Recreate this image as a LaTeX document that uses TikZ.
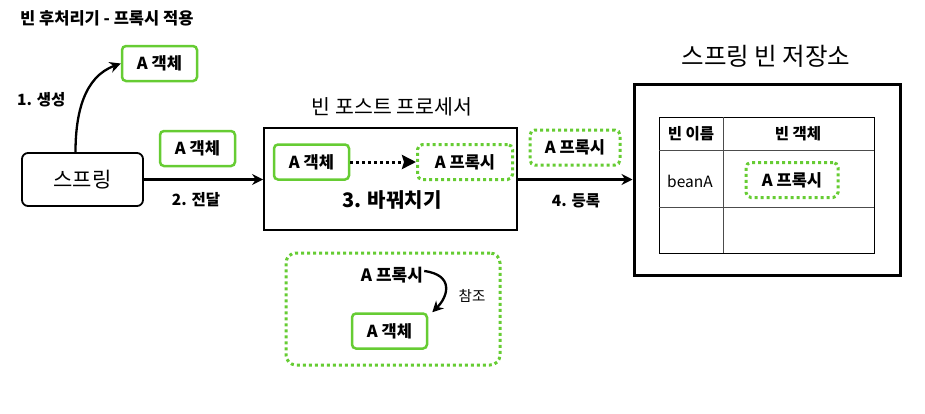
\documentclass[tikz,border=0pt]{standalone}
\usepackage{fontspec}
\setmainfont{Noto Sans CJK KR}
\usetikzlibrary{arrows.meta}
\definecolor{grn}{RGB}{102,204,51}
\begin{document}
\begin{tikzpicture}[x=1pt,y=-1pt,
  lbl/.style={font=\fontsize{15.5}{17}\selectfont\bfseries, inner sep=0pt},
  gsolid/.style={draw=grn, line width=2.5pt, rounded corners=4pt, minimum width=75pt, minimum height=35pt, inner sep=0pt, font=\fontsize{16.5}{18}\selectfont\bfseries},
  gdot/.style={draw=grn, line width=3pt, dash pattern=on 3pt off 3pt, rounded corners=5pt, minimum width=92pt, minimum height=35pt, inner sep=0pt, font=\fontsize{16.5}{18}\selectfont\bfseries},
  arr/.style={draw=black, line width=2.3pt, -{Stealth[length=11pt,width=11pt]}},
]
\useasboundingbox (0,0) rectangle (925,413);

% title
\node[lbl, font=\fontsize{16.5}{18}\selectfont\bfseries, anchor=west] (title) at (20,18) {빈 후처리기 - 프록시 적용};

% spring
\node[draw, line width=1.8pt, rounded corners=6pt, minimum width=121pt, minimum height=53pt,
      font=\fontsize{21}{23}\selectfont] (spring) at (82.5,179.5) {스프링};
\node[gsolid] (a1) at (159.5,63.5) {A 객체};
\node[lbl, anchor=west] (l1) at (17,100) {1. 생성};
\draw[arr] ([xshift=-7pt]spring.north) to[out=90, in=200] (a1.west);

% pass
\node[gsolid] (a2) at (197.5,148.5) {A 객체};

% processor
\node[draw, line width=1.8pt, minimum width=253pt, minimum height=102pt] (proc) at (390.5,179) {};
\node[font=\fontsize{20.5}{22}\selectfont, inner sep=0pt] (ptitle) at (392,107) {빈 포스트 프로세서};
\node[gsolid] (a3) at (311.5,162) {A 객체};
\node[gdot, minimum width=95pt] (p1) at (465,162) {A 프록시};
\node[font=\fontsize{20}{22}\selectfont\bfseries, inner sep=0pt] (swap) at (392,200) {3. 바꿔치기};
\draw[line width=3pt, dash pattern=on 3pt off 3pt, -{Stealth[length=14pt,width=14pt,inset=2pt]}] (a3.east) -- (p1.west);

\draw[arr] (spring.east) -- (spring.east -| proc.west);
\node[lbl] (l2) at (196,200) {2. 전달};

% register
\node[gdot, minimum width=90pt] (p2) at (575,147.5) {A 프록시};

% storage
\node[draw, line width=3pt, minimum width=266pt, minimum height=191pt] (store) at (767,179.5) {};
\node[font=\fontsize{24.5}{27}\selectfont, inner sep=0pt] (stitle) at (766,56) {스프링 빈 저장소};
\draw[arr] (proc.east |- store.west) -- (store.west);
\node[lbl] (l4) at (576,201) {4. 등록};

% table
\draw[line width=0.8pt] (659,117) rectangle (874,253);
\draw[line width=0.6pt, draw=black!70] (659,150) -- (874,150) (659,207) -- (874,207) (723,117) -- (723,253);
\node[lbl, font=\fontsize{15.5}{17}\selectfont\bfseries] (h1) at (691,134) {빈 이름};
\node[lbl, font=\fontsize{15.5}{17}\selectfont\bfseries] (h2) at (798,134) {빈 객체};
\node[font=\fontsize{15.5}{17}\selectfont, inner sep=0pt] (bn) at (690,181) {beanA};
\node[gdot, minimum width=92pt] (p3) at (792,180) {A 프록시};

% bottom
\node[draw=grn, line width=3pt, dash pattern=on 3pt off 3pt, rounded corners=10pt, minimum width=214pt, minimum height=112pt] (bot) at (393,309) {};
\node[font=\fontsize{17}{19}\selectfont\bfseries, inner sep=1pt] (p4) at (392,275) {A 프록시};
\node[gsolid] (a4) at (389.5,331) {A 객체};
\draw[line width=2.3pt, -{Stealth[length=11pt,width=11pt]}] ([yshift=4pt]p4.east) .. controls +(30,4) and +(16,-16) .. ([xshift=4pt]a4.north east);
\node[font=\fontsize{14.5}{16}\selectfont, inner sep=0pt] (ref) at (472,296) {참조};
\end{tikzpicture}
\end{document}
